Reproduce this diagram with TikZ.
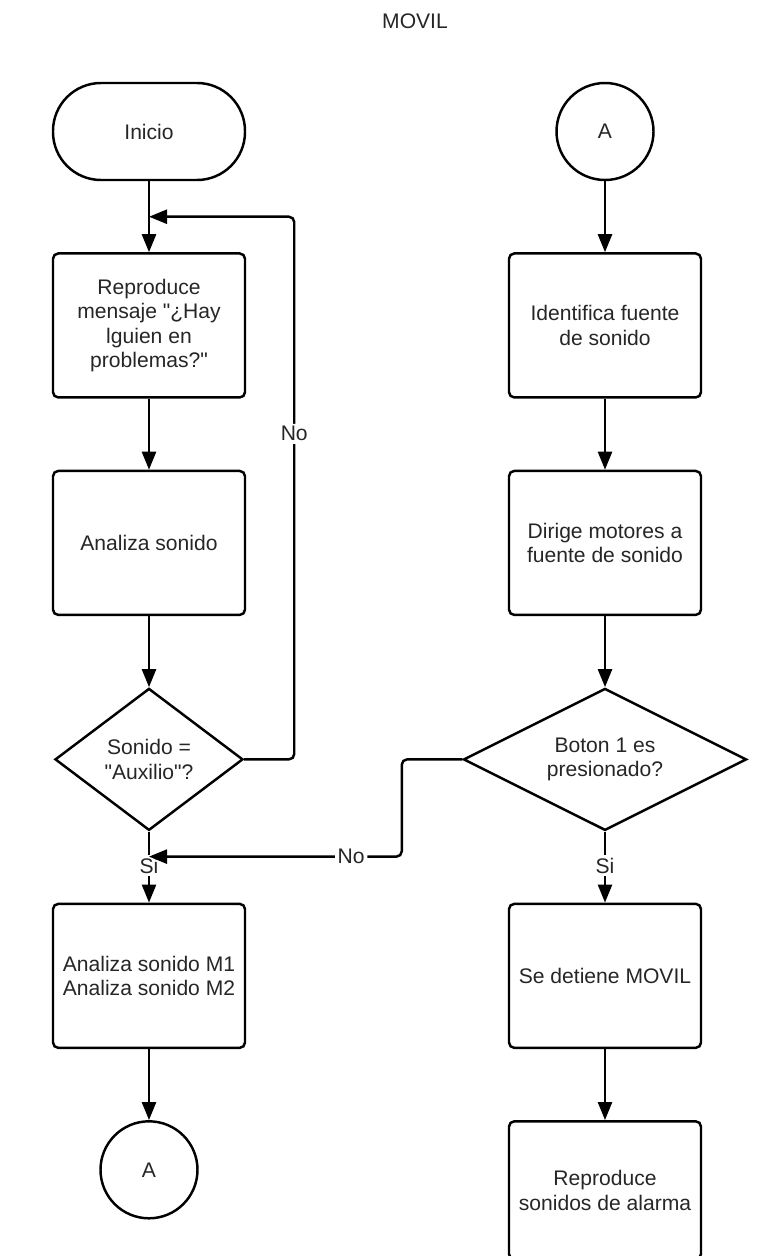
\documentclass[tikz,border=0pt]{standalone}
\usepackage{fontspec}
\setmainfont{Liberation Sans}
\usepackage{tikz}
\usetikzlibrary{shapes.geometric,arrows.meta,positioning,calc}

\begin{document}
\begin{tikzpicture}[
    font=\fontsize{12}{14}\selectfont,
    box/.style={draw, rectangle, rounded corners=3pt, line width=1.4pt, minimum width=3.84cm, minimum height=2.88cm, align=center, text=black!85},
    terminal/.style={draw, rectangle, rounded corners=0.96cm, line width=1.4pt, minimum width=3.84cm, minimum height=1.94cm, text=black!85},
    connector/.style={draw, circle, line width=1.4pt, minimum size=1.94cm, text=black!85},
    decision/.style={draw, diamond, aspect=2, inner sep=0pt, line width=1.4pt, minimum height=2.84cm, align=center, text=black!85},
    arrow/.style={-{Triangle[length=0.36cm,width=0.28cm]}, line width=1.4pt},
    lbl/.style={fill=white, inner sep=1.5pt, text=black!85},
    node distance=1.42cm
]
    \useasboundingbox (0,0) rectangle (15.26,-25.12);

    \node[text=black!85] (title) at (8.3,-0.42) {MOVIL};

    % left column
    \node[terminal] (inicio) at (2.98,-2.63) {Inicio};
    \node[box, below=of inicio] (mensaje) {Reproduce\\mensaje \textquotedbl¿Hay\\lguien en\\problemas?\textquotedbl};
    \node[box, below=of mensaje] (analiza) {Analiza sonido};
    \node[decision, minimum width=3.76cm, below=of analiza] (auxilio) {Sonido =\\\textquotedbl Auxilio\textquotedbl?};
    \node[box, below=of auxilio] (micros) {Analiza sonido M1\\Analiza sonido M2};
    \node[connector, below=of micros] (salida) {A};

    % right column
    \node[connector] (entrada) at (12.1,-2.63) {A};
    \node[box, below=of entrada] (fuente) {Identifica fuente\\de sonido};
    \node[box, below=of fuente] (motores) {Dirige motores a\\fuente de sonido};
    \node[decision, minimum width=5.66cm, below=of motores] (boton) {Boton 1 es\\presionado?};
    \node[box, below=of boton] (detiene) {Se detiene MOVIL};
    \node[box, minimum height=2.76cm, below=of detiene] (alarma) {Reproduce\\sonidos de alarma};

    \coordinate (retorno) at ($(inicio.south)!0.5!(mensaje.north)$);
    \coordinate (union) at ($(auxilio.south)+(0,-0.5)$);

    \draw[arrow] (inicio) -- (mensaje);
    \draw[arrow] (mensaje) -- (analiza);
    \draw[arrow] (analiza) -- (auxilio);
    \draw[arrow] (auxilio) -- node[lbl, pos=0.48] {Si} (micros);
    \draw[arrow] (micros) -- (salida);
    \draw[arrow, rounded corners=3pt] (auxilio.east) -- ++(1cm,0) |- node[lbl, pos=0.3] {No} (retorno);

    \draw[arrow] (entrada) -- (fuente);
    \draw[arrow] (fuente) -- (motores);
    \draw[arrow] (motores) -- (boton);
    \draw[arrow] (boton) -- node[lbl, pos=0.48] {Si} (detiene);
    \draw[arrow] (detiene) -- (alarma);
    \draw[arrow, rounded corners=3pt] (boton.west) -- ++(-1.21cm,0) |- node[lbl, pos=0.6] {No} (union);
\end{tikzpicture}
\end{document}
